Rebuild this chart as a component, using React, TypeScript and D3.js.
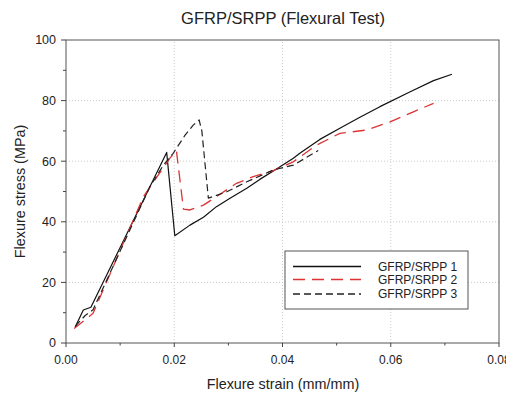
import React from "react";
import * as d3 from "d3";

const s1x = [0.0017, 0.0032, 0.0046, 0.0186, 0.0201, 0.0229, 0.0254, 0.0278, 0.0303, 0.0334, 0.0358, 0.0386, 0.0420, 0.0432, 0.0469, 0.0506, 0.0543, 0.0580, 0.0636, 0.0679, 0.0713];
const s1y = [5.3, 10.9, 11.8, 62.9, 35.4, 38.9, 41.5, 45.0, 47.8, 51.1, 54.0, 57.1, 61.0, 62.6, 67.2, 70.9, 74.5, 78.0, 82.9, 86.6, 88.7];

const s2x = [0.0015, 0.0035, 0.0050, 0.0143, 0.0192, 0.0204, 0.0217, 0.0229, 0.0254, 0.0278, 0.0315, 0.0346, 0.0383, 0.0420, 0.0463, 0.0506, 0.0556, 0.0599, 0.0642, 0.0679];
const s2y = [4.8, 7.6, 9.8, 48.3, 61.0, 63.5, 44.2, 43.9, 45.5, 48.3, 52.7, 54.9, 56.9, 59.8, 65.3, 69.2, 70.3, 73.0, 76.3, 79.1];

const s3x = [0.0017, 0.0035, 0.0050, 0.0155, 0.0180, 0.0198, 0.0220, 0.0235, 0.0246, 0.0251, 0.0263, 0.0297, 0.0334, 0.0383, 0.0420, 0.0466];
const s3y = [5.5, 9.0, 11.0, 51.6, 58.7, 62.6, 68.6, 71.9, 73.6, 70.0, 47.8, 49.9, 53.2, 57.1, 58.7, 63.5];

const seriesNames = ["GFRP/SRPP 1", "GFRP/SRPP 2", "GFRP/SRPP 3"];
const xMajorTicks = [0, 0.02, 0.04, 0.06, 0.08];
const xMinorTicks = [0.01, 0.03, 0.05, 0.07];
const yMajorTicks = [0, 20, 40, 60, 80, 100];
const yMinorTicks = [10, 30, 50, 70, 90];

const FONT = "'Liberation Sans', Arial, Helvetica, sans-serif";

export default function App() {
  const x = d3.scaleLinear().domain([0, 0.08]).range([66, 499]);
  const y = d3.scaleLinear().domain([0, 100]).range([343, 40]);
  const line = d3
    .line<[number, number]>()
    .x((d) => x(d[0]))
    .y((d) => y(d[1]));

  const series = [
    { xs: s1x, ys: s1y, color: "#111", dash: "", width: 1.2 },
    { xs: s2x, ys: s2y, color: "#dd3333", dash: "12,7", width: 1.3 },
    { xs: s3x, ys: s3y, color: "#222", dash: "7,4", width: 1.2 },
  ];

  const [x0, x1] = x.range();
  const [yb, yt] = y.range();

  return (
    <svg
      width={506}
      height={396}
      style={{ position: "absolute", left: 0, top: 0, background: "#fff" }}
      fontFamily={FONT}
    >
      <rect x={0} y={0} width={506} height={396} fill="#fff" />
      {xMajorTicks.slice(1, -1).map((t) => (
        <line key={"gx" + t} x1={x(t)} x2={x(t)} y1={yb} y2={yt} stroke="#ccc" strokeDasharray="1,2" />
      ))}
      {yMajorTicks.slice(1, -1).map((t) => (
        <line key={"gy" + t} x1={x0} x2={x1} y1={y(t)} y2={y(t)} stroke="#ccc" strokeDasharray="1,2" />
      ))}
      {series.map((s, i) => (
        <path
          key={i}
          d={line(s.xs.map((v, j) => [v, s.ys[j]] as [number, number])) || ""}
          fill="none"
          stroke={s.color}
          strokeWidth={s.width}
          strokeDasharray={s.dash}
          strokeLinejoin="round"
        />
      ))}
      <rect x={x0} y={yt} width={x1 - x0} height={yb - yt} fill="none" stroke="#555" strokeWidth={1} />
      {xMajorTicks.map((t) => (
        <g key={"xt" + t}>
          <line x1={x(t)} x2={x(t)} y1={yb} y2={yb + 4} stroke="#444" />
          <text x={x(t)} y={364} textAnchor="middle" fontSize={12} fill="#222">
            {d3.format(".2f")(t)}
          </text>
        </g>
      ))}
      {xMinorTicks.map((t) => (
        <line key={"xm" + t} x1={x(t)} x2={x(t)} y1={yb} y2={yb + 2.5} stroke="#444" />
      ))}
      {yMajorTicks.map((t) => (
        <g key={"yt" + t}>
          <line x1={x0 - 5} x2={x0} y1={y(t)} y2={y(t)} stroke="#444" />
          <text x={56} y={y(t)} dy="0.35em" textAnchor="end" fontSize={12.5} fill="#222">
            {t}
          </text>
        </g>
      ))}
      {yMinorTicks.map((t) => (
        <line key={"ym" + t} x1={x0 - 3} x2={x0} y1={y(t)} y2={y(t)} stroke="#444" />
      ))}
      <text x={283} y={24} textAnchor="middle" fontSize={16.5} fill="#222">
        GFRP/SRPP (Flexural Test)
      </text>
      <text x={283} y={389} textAnchor="middle" fontSize={14.4} fill="#222">
        Flexure strain (mm/mm)
      </text>
      <text
        transform={`translate(20,${(yb + yt) / 2}) rotate(-90)`}
        textAnchor="middle"
        dy="0.35em"
        fontSize={14.4}
        fill="#222"
      >
        Flexure stress (MPa)
      </text>
      <rect x={285} y={251} width={183} height={58} fill="#fff" stroke="#555" strokeWidth={1} />
      {series.map((s, i) => {
        const ly = [266.5, 279.5, 294][i];
        return (
          <g key={"lg" + i}>
            <line x1={293} x2={361} y1={ly} y2={ly} stroke={s.color} strokeWidth={s.width + 0.4} strokeDasharray={s.dash} />
            <text x={378} y={ly} dy="0.35em" fontSize={12} fill="#222">
              {seriesNames[i]}
            </text>
          </g>
        );
      })}
    </svg>
  );
}
